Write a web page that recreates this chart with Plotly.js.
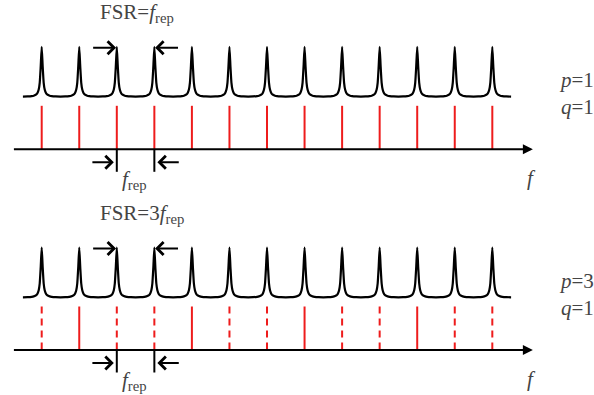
<!DOCTYPE html>
<html><head><meta charset="utf-8">
<script src="https://cdn.plot.ly/plotly-3.0.1.min.js"></script>
<style>html,body{margin:0;padding:0;background:#fff}</style>
</head><body><div id="chart" style="width:594px;height:395px"></div>
<script>
// ---- data (frequency in units of f_rep) ----
const modeIndex = [0,1,2,3,4,5,6,7,8,9,10,11,12];          // resonances / comb lines
const solidModesBottom = [1,4,7,10];                         // p=3: every third line coincides
// one resonance profile: offset from centre (f_rep) and relative height
const profileOffset = [-0.5,-0.373,-0.266,-0.213,-0.16,-0.133,-0.107,-0.08,-0.053,-0.027,0,0.027,0.053,0.08,0.107,0.133,0.16,0.213,0.266,0.373,0.5];
const profileHeight = [0.004,0.007,0.014,0.022,0.04,0.056,0.085,0.145,0.28,0.6,1,0.6,0.28,0.145,0.085,0.056,0.04,0.022,0.014,0.007,0.004];
const resonanceBase = 1.05;       // level of resonance trace above the frequency axis
const combHeight = 0.87;          // height of comb lines
const fsrText = ['FSR=<i>f</i><sub>rep</sub>', 'FSR=3<i>f</i><sub>rep</sub>'];
const pqText = ['<i>p</i>=1<br><i>q</i>=1', '<i>p</i>=3<br><i>q</i>=1'];
const spanStart = 2, spanEnd = 3;  // marked f_rep interval
const axisStart = -0.78, axisEnd = 13.08;

const BLACK = '#000', RED = 'rgb(238,28,28)', TXT = '#444';
const FONT = '"Liberation Serif", "Times New Roman", serif';

function resonance() {
  const x = [], y = [];
  modeIndex.forEach((m, j) => {
    profileOffset.forEach((o, i) => {
      if (j > 0 && i === 0) return;
      x.push(m + o); y.push(resonanceBase + profileHeight[i]);
    });
  });
  return {x, y};
}
function sticks(modes, y0, y1) {
  const x = [], y = [];
  modes.forEach(m => { x.push(m, m, null); y.push(y1, y0, null); });
  return {x, y};
}

const traces = [];
const annotations = [];
['y', 'y2'].forEach((ya, k) => {
  const r = resonance();
  traces.push({x: r.x, y: r.y, yaxis: ya, mode: 'lines', line: {color: BLACK, width: 2.2, shape: 'spline', smoothing: 0.5}, hoverinfo: 'skip'});
  if (k === 0) {
    const s = sticks(modeIndex, 0, combHeight);
    traces.push({x: s.x, y: s.y, yaxis: ya, mode: 'lines', line: {color: RED, width: 2}, hoverinfo: 'skip'});
  } else {
    const solid = sticks(solidModesBottom, 0, combHeight);
    const dashed = sticks(modeIndex.filter(m => !solidModesBottom.includes(m)), 0, combHeight);
    traces.push({x: solid.x, y: solid.y, yaxis: ya, mode: 'lines', line: {color: RED, width: 2}, hoverinfo: 'skip'});
    traces.push({x: dashed.x, y: dashed.y, yaxis: ya, mode: 'lines', line: {color: RED, width: 2, dash: '7px,5px'}, hoverinfo: 'skip'});
  }
  // f_rep ticks below axis
  const t = sticks([spanStart, spanEnd], -0.45, 0);
  traces.push({x: t.x, y: t.y, yaxis: ya, mode: 'lines', line: {color: BLACK, width: 2}, hoverinfo: 'skip'});

  const yref = ya;
  const arr = (tip, tail, yv, head) => ({x: tip, y: yv, ax: tail, ay: yv, xref: 'x', yref: yref, axref: 'x', ayref: yref,
     text: '', showarrow: true, arrowhead: head, arrowsize: head === 2 ? 1 : 1.25, arrowwidth: 2, arrowcolor: BLACK, standoff: 0});
  // frequency axis
  annotations.push(arr(axisEnd, axisStart, 0, 2));
  // FSR arrows
  annotations.push(arr(spanStart - 0.02, spanStart - 0.67, 2.03, 4));
  annotations.push(arr(spanEnd + 0.02, spanEnd + 0.67, 2.03, 4));
  // f_rep arrows
  annotations.push(arr(spanStart - 0.08, spanStart - 0.69, -0.26, 4));
  annotations.push(arr(spanEnd + 0.08, spanEnd + 0.69, -0.26, 4));
  // texts
  const txt = (x, y, s, xa) => ({x, y, xref: 'x', yref: yref, text: s, showarrow: false, xanchor: xa, yanchor: 'middle',
     font: {family: FONT, size: 21, color: TXT}});
  annotations.push(txt(1.5, 2.72, fsrText[k], 'left'));
  annotations.push(txt(2.08, -0.62, '<i>f</i><sub>rep</sub>', 'left'));
  annotations.push(txt(13.05, -0.57, '<i>f</i>', 'center'));
  annotations.push(Object.assign(txt(13.72, 1.12, pqText[k], 'left'), {align: 'left'}));
});

const layout = {
  width: 594, height: 395, autosize: false,
  margin: {l: 0, r: 0, t: 0, b: 0, pad: 0},
  paper_bgcolor: '#fff', plot_bgcolor: '#fff',
  showlegend: false,
  font: {family: FONT},
  xaxis: {range: [-1.1105, 14.708], visible: false, fixedrange: true},
  yaxis: {range: [-4.914, 2.986], visible: false, fixedrange: true, domain: [0, 1]},
  yaxis2: {range: [-0.9, 7.0], visible: false, fixedrange: true, overlaying: 'y'},
  annotations: annotations
};
Plotly.newPlot('chart', traces, layout, {staticPlot: true, displayModeBar: false});
</script></body></html>
